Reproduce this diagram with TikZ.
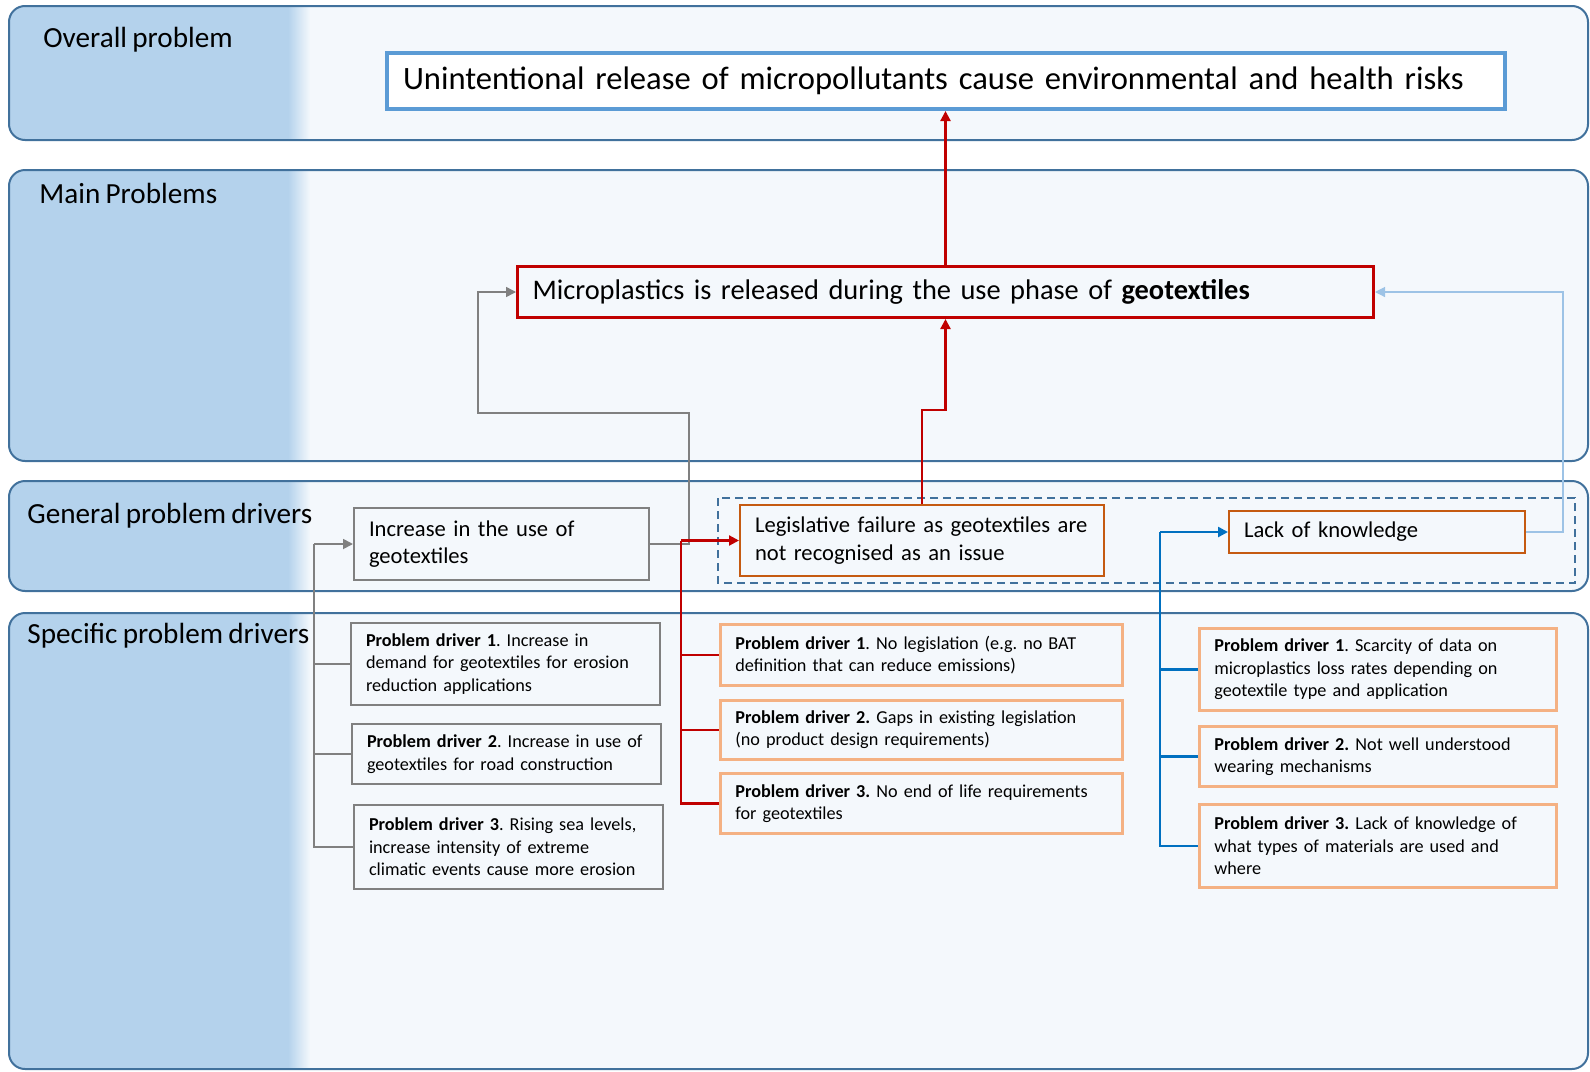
\documentclass[tikz,border=0pt]{standalone}
\usepackage{fontspec}
\setmainfont{Carlito}[WordSpace=0.8]
\frenchspacing
\usetikzlibrary{arrows.meta, calc, positioning}

\definecolor{bandfill}{HTML}{F4F8FC}
\definecolor{bandblue}{HTML}{B4D2EC}
\definecolor{bandline}{HTML}{41719C}
\definecolor{topblue}{HTML}{5B9BD5}
\definecolor{darkred}{HTML}{C00000}
\definecolor{linegray}{HTML}{808080}
\definecolor{legisorange}{HTML}{C55A11}
\definecolor{paleorange}{HTML}{F4B183}
\definecolor{knowblue}{HTML}{0070C0}
\definecolor{paleblue}{HTML}{9DC3E6}

\tikzset{
  boxsize/.style 2 args={minimum width=#1*0.5pt, minimum height=#2*0.5pt, text width=#1*0.5pt-15pt},
  box/.style={anchor=north west, inner xsep=7.5pt, inner ysep=1pt, align=left, fill=bandfill},
  bandlabel/.style={anchor=base west, inner sep=0pt, font=\fontsize{14.6}{17}\selectfont},
  topbox/.style={box, draw=topblue, line width=2pt, fill=white, inner xsep=8pt, font=\fontsize{16.3}{19}\selectfont},
  mainbox/.style={box, draw=darkred, line width=1.5pt, font=\fontsize{14.2}{17}\selectfont},
  genbox/.style={box, line width=1pt, font=\fontsize{11.3}{13.7}\selectfont},
  specbox/.style={box, line width=1.4pt, font=\fontsize{9.1}{11.2}\selectfont},
  arrowend/.style={-{Triangle[length=5pt, width=5pt]}},
  redlink/.style={darkred, line width=1.1pt},
  graylink/.style={linegray, line width=0.9pt},
  bluelink/.style={knowblue, line width=1.2pt},
  palelink/.style={paleblue, line width=0.6pt}
}

\begin{document}
\begin{tikzpicture}[x=0.5pt, y=-0.5pt]
\useasboundingbox (0,0) rectangle (1590,1071);

% bands
\foreach \ya/\yb in {6/140, 170/461, 481/591, 613/1069}{
  \fill[bandfill, rounded corners=8pt] (9,\ya) rectangle (1588,\yb);
  \begin{scope}
    \clip[rounded corners=8pt] (9,\ya) rectangle (1588,\yb);
    \fill[bandblue] (0,\ya) rectangle (289,\yb);
    \shade[left color=bandblue, right color=bandfill] (288,\ya) rectangle (310,\yb);
  \end{scope}
  \draw[bandline, line width=1pt, rounded corners=8pt] (9,\ya) rectangle (1588,\yb);
}

\node[bandlabel] (lblOverall) at (43,47) {Overall problem};
\node[bandlabel] (lblMain) at (39,203) {Main Problems};
\node[bandlabel] (lblGeneral) at (27,523) {General problem drivers};
\node[bandlabel] (lblSpecific) at (27,643) {Specific problem drivers};

\draw[bandline, line width=0.8pt, dash pattern=on 4pt off 2.5pt] (718,498) rectangle (1575,583);

% problems
\node[topbox, boxsize={1116}{56}] (overall) at (385,51)
  {Unintentional release of micropollutants cause environmental and health risks};
\node[mainbox, boxsize={856}{51}] (micro) at (516,265)
  {Microplastics is released during the use phase of \textbf{geotextiles}};

% general drivers
\node[genbox, draw=linegray, boxsize={295}{72}] (incr) at (353,507)
  {Increase in the use of\\geotextiles};
\node[genbox, draw=legisorange, boxsize={364}{71}] (legis) at (739,504)
  {Legislative failure as geotextiles are\\not recognised as an issue};
\node[genbox, draw=legisorange, boxsize={296}{42}] (lack) at (1228,510)
  {Lack of knowledge};

% specific drivers
\node[specbox, draw=linegray, line width=1pt, boxsize={309}{82}] (incA) at (350,622)
  {\textbf{Problem driver 1}. Increase in\\demand for geotextiles for erosion\\reduction applications};
\node[specbox, draw=linegray, line width=1pt, boxsize={309}{60}] (incB) at (351,723)
  {\textbf{Problem driver 2}. Increase in use of\\geotextiles for road construction};
\node[specbox, draw=linegray, line width=1pt, boxsize={309}{84}] (incC) at (353,804)
  {\textbf{Problem driver 3}. Rising sea levels,\\increase intensity of extreme\\climatic events cause more erosion};

\node[specbox, draw=paleorange, boxsize={402}{61}] (legA) at (719,623)
  {\textbf{Problem driver 1}. No legislation (e.g. no BAT\\definition that can reduce emissions)};
\node[specbox, draw=paleorange, boxsize={402}{59}] (legB) at (719,699)
  {\textbf{Problem driver 2.} Gaps in existing legislation\\(no product design requirements)};
\node[specbox, draw=paleorange, boxsize={402}{60}] (legC) at (719,772)
  {\textbf{Problem driver 3.} No end of life requirements\\for geotextiles};

\node[specbox, draw=paleorange, boxsize={357}{82}] (knowA) at (1198,627)
  {\textbf{Problem driver 1}. Scarcity of data on\\microplastics loss rates depending on\\geotextile type and application};
\node[specbox, draw=paleorange, boxsize={357}{60}] (knowB) at (1198,725)
  {\textbf{Problem driver 2.} Not well understood\\wearing mechanisms};
\node[specbox, draw=paleorange, boxsize={357}{83}] (knowC) at (1198,803)
  {\textbf{Problem driver 3.} Lack of knowledge of\\what types of materials are used and\\where};

% links upwards
\draw[redlink, arrowend] (micro.north) -- (micro.north |- overall.south);
\draw[redlink, arrowend] (legis.north) -- ++(0,-94) -| (micro.south);
\draw[graylink, line width=0.75pt, arrowend] (incr.east) -- ++(39,0) -- ++(0,-131) -| ([xshift=-19pt]micro.west) -- (micro.west);
\draw[palelink, arrowend] (lack.east) -- ++(37,0) |- (micro.east);

% brackets
\coordinate (incspine) at ([xshift=-19.5pt]incr.west);
\draw[graylink, arrowend] (incspine) -- (incr.west);
\draw[graylink] (incspine) |- (incC.west);
\foreach \n in {incA, incB} \draw[graylink] (incspine |- \n.west) -- (\n.west);

\coordinate (legspine) at ([xshift=-29pt]legis.west);
\draw[redlink, arrowend] (legspine) -- (legis.west);
\draw[redlink] (legspine) |- (legC.west);
\foreach \n in {legA, legB} \draw[redlink] (legspine |- \n.west) -- (\n.west);

\coordinate (knowspine) at ([xshift=-34pt]lack.west);
\draw[bluelink, arrowend] (knowspine) -- (lack.west);
\draw[bluelink] (knowspine) |- (knowC.west);
\foreach \n in {knowA, knowB} \draw[bluelink] (knowspine |- \n.west) -- (\n.west);
\end{tikzpicture}
\end{document}
